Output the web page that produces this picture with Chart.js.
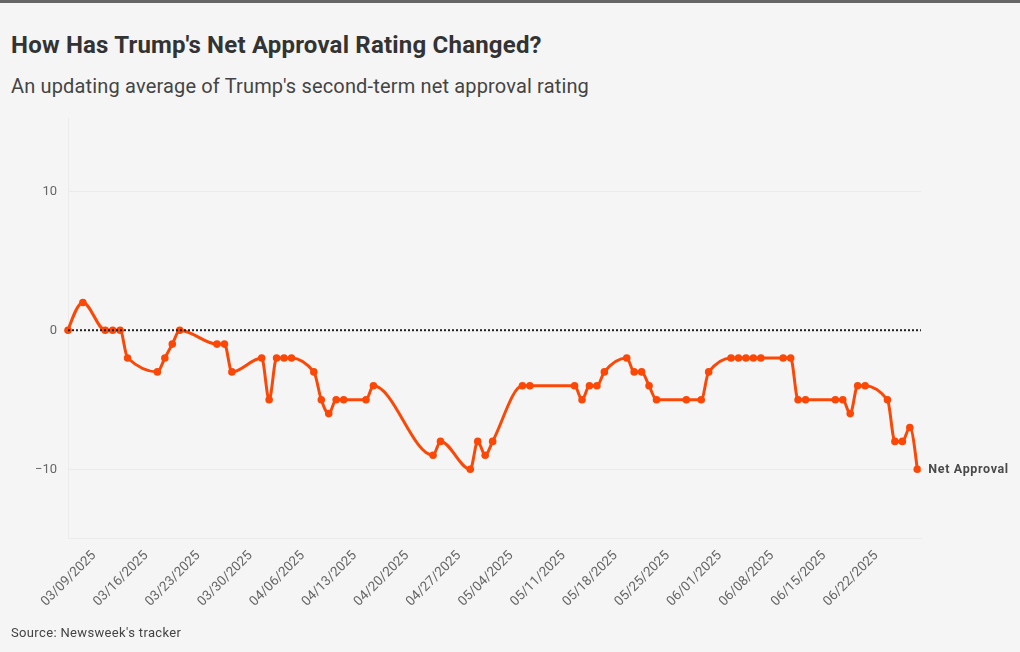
<!DOCTYPE html>
<html><head><meta charset="utf-8">
<script src="https://cdn.jsdelivr.net/npm/chart.js@4"></script>
<style>
html,body{margin:0;padding:0;background:#f5f5f5;width:1020px;height:652px;overflow:hidden}
#bar{position:absolute;left:0;top:0;width:1020px;height:3px;background:#666}
.t{position:absolute;left:11px;white-space:nowrap;font-family:Roboto,sans-serif}
#title{top:31px;font-size:24px;font-weight:700;color:#333;line-height:28px;letter-spacing:.2px}
#sub{top:74px;font-size:20px;font-weight:400;color:#444;line-height:24px;letter-spacing:.16px}
#src{top:625px;font-size:13px;color:#444;line-height:16px;letter-spacing:.35px}
canvas{position:absolute;left:0;top:0}
</style></head><body>
<div id="bar"></div>
<div class="t" id="title">How Has Trump's Net Approval Rating Changed?</div>
<div class="t" id="sub">An updating average of Trump's second-term net approval rating</div>
<div style="position:absolute;left:0;top:0;width:1020px;height:652px"><canvas id="c" width="1020" height="652"></canvas></div>
<div class="t" id="src">Source: Newsweek's tracker</div>
<script>
const days = [0,2,5,6,7,8,12,13,14,15,20,21,22,26,27,28,29,30,33,34,35,36,37,40,41,49,50,54,55,56,57,61,62,68,69,70,71,72,75,76,77,78,79,83,85,86,89,90,91,92,93,96,97,98,99,103,104,105,106,107,110,111,112,113,114];
const netApproval = [0,2,0,0,0,-2,-3,-2,-1,0,-1,-1,-3,-2,-5,-2,-2,-2,-3,-5,-6,-5,-5,-5,-4,-9,-8,-10,-8,-9,-8,-4,-4,-4,-5,-4,-4,-3,-2,-3,-3,-4,-5,-5,-5,-3,-2,-2,-2,-2,-2,-2,-2,-5,-5,-5,-5,-6,-4,-4,-5,-8,-8,-7,-10];
const tickDays = [0,7,14,21,28,35,42,49,56,63,70,77,84,91,98,105];
const tickLabels = ['03/09/2025','03/16/2025','03/23/2025','03/30/2025','04/06/2025','04/13/2025','04/20/2025','04/27/2025','05/04/2025','05/11/2025','05/18/2025','05/25/2025','06/01/2025','06/08/2025','06/15/2025','06/22/2025'];
const yTicks = [-10,0,10];
const zeroDays = [0,114.5];
const zeroValues = [0,0];
const seriesName = 'Net Approval';

const sign = v => v < 0 ? -1 : 1;
const smoothCurve = {
  id:'smoothCurve',
  afterDatasetsUpdate(chart){
    const meta = chart.getDatasetMeta(1);
    const pts = meta.data, n = pts.length;
    const sec = [], h = [];
    for(let i=0;i<n-1;i++){h[i]=pts[i+1].x-pts[i].x;sec[i]=(pts[i+1].y-pts[i].y)/h[i];}
    const t = new Array(n);
    for(let i=1;i<n-1;i++){
      const p=(sec[i-1]*h[i]+sec[i]*h[i-1])/(h[i-1]+h[i]);
      t[i]=(sign(sec[i-1])+sign(sec[i]))*Math.min(Math.abs(sec[i-1]),Math.abs(sec[i]),0.5*Math.abs(p))||0;
    }
    t[0]=(3*sec[0]-t[1])/2;
    t[n-1]=(3*sec[n-2]-t[n-2])/2;
    for(let i=0;i<n-1;i++){
      const d=h[i]/3;
      pts[i].cp2x=pts[i].x+d; pts[i].cp2y=pts[i].y+d*t[i];
      pts[i+1].cp1x=pts[i+1].x-d; pts[i+1].cp1y=pts[i+1].y-d*t[i+1];
    }
    meta.dataset._pointsUpdated=true;
  }
};

const endLabel = {
  id:'endLabel',
  afterDatasetsDraw(chart){
    const meta = chart.getDatasetMeta(1);
    const p = meta.data[meta.data.length-1];
    const ctx = chart.ctx;
    ctx.save();
    ctx.strokeStyle = '#ddd';
    ctx.lineWidth = 1;
    ctx.beginPath();
    ctx.moveTo(p.x+3,p.y);
    ctx.lineTo(p.x+7,p.y);
    ctx.stroke();
    ctx.font = '700 12.5px Roboto, sans-serif';
    ctx.fillStyle = '#4a4a4a';
    ctx.textAlign = 'left';
    ctx.textBaseline = 'middle';
    ctx.letterSpacing = '0.65px';
    ctx.fillText(seriesName, p.x+11, p.y+0.5);
    ctx.restore();
  }
};

function shiftLabels(s,dx,dy){
  if(s._wrapped) return;
  const orig=s._computeLabelItems;
  s._computeLabelItems=function(a){
    const items=orig.call(this,a);
    items.forEach(i=>{i.options.translation=[i.options.translation[0]+dx,i.options.translation[1]+dy];});
    return items;
  };
  s._wrapped=true;
  s._labelItems=null;
}

new Chart(document.getElementById('c'),{
  type:'line',
  data:{datasets:[
    {label:'Zero',data:zeroDays.map((x,i)=>({x,y:zeroValues[i]})),borderColor:'#222',borderWidth:2,borderDash:[2,2],pointRadius:0,fill:false},
    {label:seriesName,data:days.map((x,i)=>({x,y:netApproval[i]})),borderColor:'#fb4807',backgroundColor:'#fb4807',borderWidth:3,pointRadius:3.8,pointHoverRadius:3.8,pointBorderWidth:0,cubicInterpolationMode:'monotone',fill:false,clip:false}
  ]},
  options:{
    responsive:false,animation:false,
    layout:{padding:{left:0,right:99,top:118,bottom:0}},
    plugins:{legend:{display:false},tooltip:{enabled:false},title:{display:false}},
    scales:{
      x:{type:'linear',min:0,max:114.5,
        grid:{display:false},
        border:{display:true,color:'#ebebeb',width:1},
        afterBuildTicks(s){s.ticks=tickDays.map(v=>({value:v}));},
        afterFit(s){s.height=114;},
        afterUpdate(s){shiftLabels(s,26,0);},
        ticks:{autoSkip:false,minRotation:45,maxRotation:45,padding:2,color:'#666',font:{family:'Roboto, sans-serif',size:13.4},
          callback(v){const i=tickDays.indexOf(v);return i>=0?tickLabels[i]:'';}}
      },
      y:{min:-14.95,max:15.27,
        afterBuildTicks(s){s.ticks=yTicks.map(v=>({value:v}));},
        afterFit(s){s.width=68;},
        afterUpdate(s){shiftLabels(s,0,1);},
        border:{display:true,color:'#ebebeb',width:1},
        grid:{color:c=>c.tick&&c.tick.value===0?'rgba(0,0,0,0)':'#ebebeb',drawTicks:false,lineWidth:1},
        ticks:{padding:11,color:'#666',font:{family:'Roboto, sans-serif',size:13},
          callback(v){return v<0?'\u2212'+Math.abs(v):String(v);}}
      }
    }
  },
  plugins:[smoothCurve,endLabel]
});
</script>
</body></html>
